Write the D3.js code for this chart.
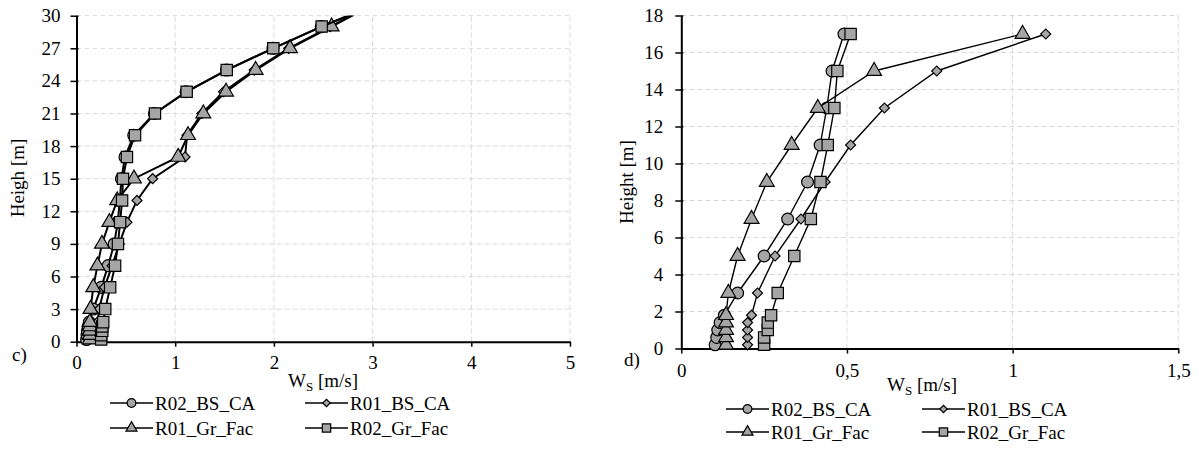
<!DOCTYPE html>
<html>
<head>
<meta charset="utf-8">
<script src="https://cdn.jsdelivr.net/npm/d3@7"></script>
<style>
  body { margin: 0; background: #fff; }
  svg { display: block; font-family: "Liberation Serif", "Times New Roman", serif; }
</style>
</head>
<body>
<div id="chart"></div>
<script>
// heights [m]
const heightsD = [0.2, 0.6, 1, 1.4, 1.8, 3, 5, 7, 9, 11, 13, 15, 17];
const heightsC = heightsD.concat([19, 21, 23, 25, 27, 29, 31]);

// Ws [m/s] per series
const r02BsCa = [0.102, 0.107, 0.11, 0.117, 0.13, 0.17, 0.25, 0.321, 0.381, 0.419, 0.439, 0.455, 0.491];
const r01BsCa = [0.2, 0.2, 0.2, 0.2, 0.212, 0.23, 0.283, 0.361, 0.434, 0.511, 0.613, 0.771, 1.1];
const r01GrFac = [0.135, 0.135, 0.135, 0.135, 0.135, 0.142, 0.17, 0.212, 0.258, 0.333, 0.412, 0.582, 1.03];
const r02GrFac = [0.25, 0.25, 0.261, 0.261, 0.271, 0.291, 0.341, 0.391, 0.42, 0.442, 0.462, 0.471, 0.511];

// upper part only on chart c)
const r02BsCaUp = [0.58, 0.79, 1.11, 1.52, 1.99, 2.48, 3.02];
const r01BsCaUp = [1.12, 1.27, 1.49, 1.8, 2.15, 2.57, 3.0];
const r01GrFacUp = [1.13, 1.285, 1.515, 1.815, 2.163, 2.585, 3.0];
const r02GrFacUp = [0.593, 0.795, 1.116, 1.522, 1.994, 2.484, 3.03];

const seriesNames = ["R02_BS_CA", "R01_BS_CA", "R01_Gr_Fac", "R02_Gr_Fac"];
const seriesShapes = ["circle", "diamond", "triangle", "square"];

const xTicksC = [0, 1, 2, 3, 4, 5];
const yTicksC = [0, 3, 6, 9, 12, 15, 18, 21, 24, 27, 30];
const xTicksD = [0, 0.5, 1, 1.5];
const yTicksD = [0, 2, 4, 6, 8, 10, 12, 14, 16, 18];

const FS = "19px";

const svg = d3.select("#chart").append("svg")
    .attr("width", 1199)
    .attr("height", 461);

function markerPath(shape, k) {
    if (shape === "circle") return d3.symbol(d3.symbolCircle, 110 * k)();
    if (shape === "square") return d3.symbol(d3.symbolSquare, 128 * k)();
    if (shape === "triangle") return d3.symbol(d3.symbolTriangle, 95 * k)();
    return d3.symbol(d3.symbolSquare, 50 * k)(); // rotated later -> diamond
}

function drawMarker(g, shape, x, y, k = 1) {
    g.append("path")
        .attr("d", markerPath(shape, k))
        .attr("transform", `translate(${x},${y})` + (shape === "diamond" ? " rotate(45)" : ""))
        .attr("fill", "#a5a5a5")
        .attr("stroke", "#000")
        .attr("stroke-width", 1.2);
}

function drawPanel(opt) {
    const x = d3.scaleLinear().domain(opt.xDomain).range(opt.xRange);
    const y = d3.scaleLinear().domain(opt.yDomain).range(opt.yRange);
    const g = svg.append("g");

    // grid
    g.selectAll("line.hgrid")
        .data(opt.yTicks.filter(t => t > 0))
        .join("line")
        .attr("x1", opt.xRange[0]).attr("x2", opt.xRange[1])
        .attr("y1", d => y(d)).attr("y2", d => y(d))
        .attr("stroke", "#d9d9d9").attr("stroke-dasharray", "5,3");
    g.selectAll("line.vgrid")
        .data(opt.xTicks.filter(t => t > 0))
        .join("line")
        .attr("x1", d => x(d)).attr("x2", d => x(d))
        .attr("y1", opt.yRange[0]).attr("y2", opt.yRange[1])
        .attr("stroke", "#d9d9d9").attr("stroke-dasharray", "5,3");

    // axes
    const xAxis = g.append("g")
        .attr("transform", `translate(0,${opt.yRange[0]})`)
        .call(d3.axisBottom(x).tickValues(opt.xTicks).tickSize(5).tickSizeOuter(0)
            .tickFormat(opt.xFormat).tickPadding(opt.xPad));
    const yAxis = g.append("g")
        .attr("transform", `translate(${opt.xRange[0]},0)`)
        .call(d3.axisLeft(y).tickValues(opt.yTicks).tickSize(6).tickSizeOuter(0).tickPadding(opt.yPad));
    yAxis.selectAll(".tick line").attr("x1", 2); // ticks cross the axis a bit
    [xAxis, yAxis].forEach(a => {
        a.select(".domain").attr("stroke", "#000").attr("stroke-width", 2);
        a.selectAll(".tick line").attr("stroke", "#000").attr("stroke-width", 1.5);
        a.selectAll(".tick text")
            .attr("fill", "#000")
            .style("font-family", "Liberation Serif")
            .style("font-size", FS);
    });

    // series
    const clipId = "clip" + opt.id;
    svg.append("clipPath").attr("id", clipId)
        .append("rect")
        .attr("x", opt.xRange[0] - 20).attr("y", opt.yRange[1])
        .attr("width", opt.xRange[1] - opt.xRange[0] + 40)
        .attr("height", opt.yRange[0] - opt.yRange[1] + 20);
    const plot = g.append("g").attr("clip-path", `url(#${clipId})`);
    const line = d3.line().x(d => x(d[0])).y(d => y(d[1]));
    opt.series.forEach((vals, i) => {
        const pts = vals.map((v, j) => [v, opt.heights[j]]);
        plot.append("path")
            .datum(pts)
            .attr("d", line)
            .attr("fill", "none")
            .attr("stroke", "#000")
            .attr("stroke-width", opt.lineWidth);
        pts.forEach(p => drawMarker(plot, seriesShapes[i], x(p[0]), y(p[1])));
    });

    // axis titles
    const xt = g.append("text")
        .attr("x", opt.xTitle[0]).attr("y", opt.xTitle[1])
        .attr("text-anchor", "middle")
        .style("font-size", FS);
    xt.append("tspan").text("W");
    xt.append("tspan").attr("dy", 4).style("font-size", "13px").text("S");
    xt.append("tspan").attr("dy", -4).text(" [m/s]");

    g.append("text")
        .attr("transform", `translate(${opt.yTitle[0]},${opt.yTitle[1]}) rotate(-90)`)
        .attr("text-anchor", "middle")
        .style("font-size", FS)
        .text(opt.yTitleText);

    g.append("text")
        .attr("x", opt.tag[0]).attr("y", opt.tag[1])
        .style("font-size", FS)
        .text(opt.tagText);

    // legend
    const leg = g.append("g");
    seriesNames.forEach((name, i) => {
        const lx = opt.legX[i % 2];
        const ly = opt.legY[Math.floor(i / 2)];
        leg.append("line")
            .attr("x1", lx).attr("x2", lx + 43)
            .attr("y1", ly).attr("y2", ly)
            .attr("stroke", "#000").attr("stroke-width", 1.5);
        drawMarker(leg, seriesShapes[i], lx + 21.5, ly, 0.55);
        leg.append("text")
            .attr("x", lx + 45).attr("y", ly + 6.5)
            .style("font-size", FS)
            .text(name);
    });
}

const comma = d => String(d).replace(".", ",");

drawPanel({
    id: "c",
    xDomain: [0, 5], xRange: [76.5, 570],
    yDomain: [0, 30], yRange: [341.7, 15.7],
    xTicks: xTicksC, yTicks: yTicksC, xFormat: d3.format("d"),
    xPad: 9, yPad: 10,
    heights: heightsC,
    series: [r02BsCa.concat(r02BsCaUp), r01BsCa.concat(r01BsCaUp),
             r01GrFac.concat(r01GrFacUp), r02GrFac.concat(r02GrFacUp)],
    lineWidth: 2,
    xTitle: [323, 387], yTitle: [24, 178], yTitleText: "Heigh  [m]",
    tag: [12, 361], tagText: "c)",
    legX: [110, 305], legY: [403, 428]
});

drawPanel({
    id: "d",
    xDomain: [0, 1.5], xRange: [681.3, 1178.3],
    yDomain: [0, 18], yRange: [348.5, 15.5],
    xTicks: xTicksD, yTicks: yTicksD, xFormat: comma,
    xPad: 10, yPad: 12,
    heights: heightsD,
    series: [r02BsCa, r01BsCa, r01GrFac, r02GrFac],
    lineWidth: 1.4,
    xTitle: [922, 391], yTitle: [633, 182], yTitleText: "Height [m]",
    tag: [624, 366], tagText: "d)",
    legX: [726, 922], legY: [409, 432]
});
</script>
</body>
</html>
